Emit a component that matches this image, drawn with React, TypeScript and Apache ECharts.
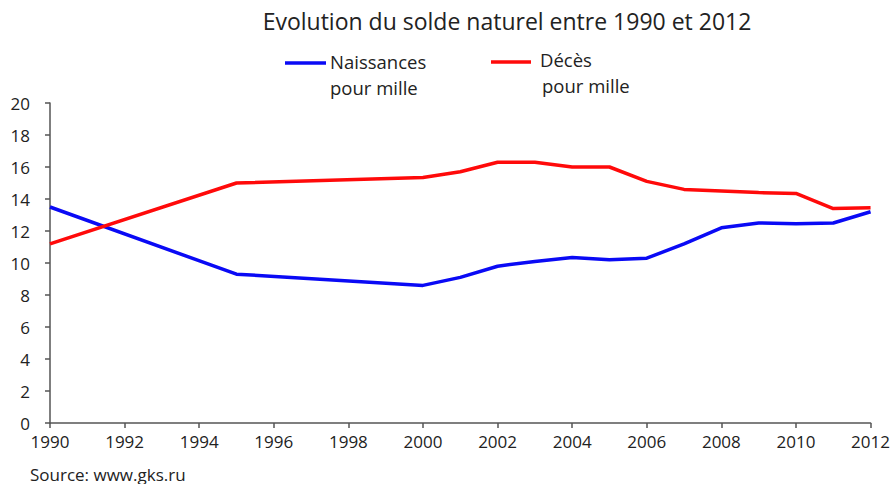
import React, { useEffect, useRef } from "react";
import * as echarts from "echarts";

const years = [1990, 1995, 2000, 2001, 2002, 2003, 2004, 2005, 2006, 2007, 2008, 2009, 2010, 2011, 2012];
const naissances = [13.5, 9.3, 8.6, 9.1, 9.8, 10.1, 10.35, 10.2, 10.3, 11.2, 12.2, 12.5, 12.45, 12.5, 13.2];
const deces = [11.2, 15.0, 15.35, 15.7, 16.3, 16.3, 16.0, 16.0, 15.1, 14.6, 14.5, 14.4, 14.35, 13.4, 13.45];

const title = "Evolution du solde naturel entre 1990 et 2012";
const source = "Source: www.gks.ru";
const FONT = "'Open Sans', sans-serif";

export default function App() {
  const ref = useRef<HTMLDivElement>(null);
  useEffect(() => {
    if (!ref.current) return;
    const chart = echarts.init(ref.current, null, { renderer: "svg" });
    const axisColor = "#555";
    const lbl = (text: string, x: number, y: number, size: number) => ({
      type: "text",
      x,
      y,
      style: { text, font: `${size}px ${FONT}`, fill: "#222", textVerticalAlign: "middle", verticalAlign: "middle" },
    });
    chart.setOption({
      animation: false,
      backgroundColor: "#fff",
      textStyle: { fontFamily: FONT },
      title: {
        text: title,
        left: 502,
        textAlign: "center",
        top: 4,
        textStyle: { fontFamily: FONT, fontSize: 23, fontWeight: "normal", color: "#222" },
      },
      grid: { left: 50, right: 22, top: 103, bottom: 61, containLabel: false },
      xAxis: {
        type: "value",
        min: 1990,
        max: 2012,
        interval: 2,
        axisLine: { show: true, lineStyle: { color: axisColor, width: 1.5 } },
        axisTick: { show: true, length: 5, lineStyle: { color: axisColor, width: 1.5 } },
        axisLabel: { color: "#222", fontSize: 17, fontFamily: FONT, margin: 10, formatter: (v: number) => String(v) },
        splitLine: { show: false },
      },
      yAxis: {
        type: "value",
        min: 0,
        max: 20,
        interval: 2,
        axisLine: { show: true, lineStyle: { color: axisColor, width: 1.5 } },
        axisTick: { show: true, length: 5, lineStyle: { color: axisColor, width: 1.5 } },
        axisLabel: { color: "#222", fontSize: 17, fontFamily: FONT, margin: 20 },
        splitLine: { show: false },
      },
      series: [
        {
          name: "Naissances pour mille",
          type: "line",
          data: years.map((y, i) => [y, naissances[i]]),
          showSymbol: false,
          lineStyle: { color: "#0a0af5", width: 3.5 },
          itemStyle: { color: "#0a0af5" },
        },
        {
          name: "Décès pour mille",
          type: "line",
          data: years.map((y, i) => [y, deces[i]]),
          showSymbol: false,
          lineStyle: { color: "#ff0a0a", width: 3.5 },
          itemStyle: { color: "#ff0a0a" },
        },
      ],
      graphic: [
        { type: "line", shape: { x1: 285, y1: 63, x2: 326, y2: 63 }, style: { stroke: "#0a0af5", lineWidth: 3.5 } },
        lbl("Naissances", 330, 61, 18.5),
        lbl("pour mille", 330, 87, 18.5),
        { type: "line", shape: { x1: 491, y1: 62, x2: 531, y2: 62 }, style: { stroke: "#ff0a0a", lineWidth: 3.5 } },
        lbl("Décès", 540, 59, 18.5),
        lbl("pour mille", 542, 85, 18.5),
        lbl(source, 30, 474, 17),
      ],
    });
    return () => chart.dispose();
  }, []);
  return <div ref={ref} style={{ position: "fixed", left: 0, top: 0, width: 893, height: 484 }} />;
}
